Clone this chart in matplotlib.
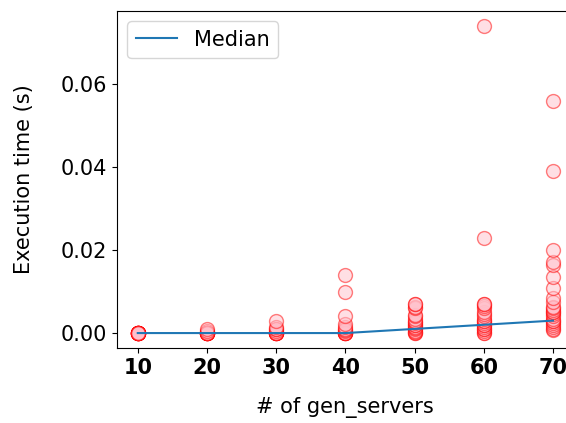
import matplotlib
matplotlib.use("Agg")
import matplotlib.pyplot as plt

# number of gen_servers and measured execution times (s) per setting
servers = [10, 20, 30, 40, 50, 60, 70]
times_10 = [0.0] * 15
times_20 = [0.0] * 12 + [0.0005, 0.001]
times_30 = [0.0] * 8 + [0.0005, 0.001, 0.001, 0.0015, 0.003]
times_40 = [0.0] * 6 + [0.0005, 0.0007, 0.001, 0.0015, 0.0023, 0.004, 0.010, 0.014]
times_50 = [0.0, 0.0, 0.0002, 0.0005, 0.001, 0.0012, 0.0015, 0.0019, 0.002, 0.0025,
            0.0027, 0.003, 0.0035, 0.004, 0.0043, 0.006, 0.0063, 0.0069, 0.007]
times_60 = [0.0, 0.0, 0.0005, 0.001, 0.001, 0.0015, 0.002, 0.002, 0.0025, 0.003,
            0.003, 0.0035, 0.004, 0.0045, 0.005, 0.006, 0.0065, 0.007, 0.007,
            0.023, 0.074]
times_70 = [0.0007, 0.001, 0.0015, 0.002, 0.0025, 0.003, 0.003, 0.0035, 0.004,
            0.0045, 0.005, 0.0051, 0.0055, 0.006, 0.0063, 0.0075, 0.0084, 0.0108,
            0.0136, 0.0164, 0.0172, 0.020, 0.039, 0.056]
medians = [0.0, 0.0, 0.0, 0.0, 0.001, 0.002, 0.003]

all_times = [times_10, times_20, times_30, times_40, times_50, times_60, times_70]

fig = plt.figure(figsize=(5.66, 4.23), dpi=100)
ax = fig.add_axes((0.2067, 0.1773, 0.807, 0.7967))

# scatter every run for each setting
for n, t in zip(servers, all_times):
    ax.scatter([n] * len(t), t, s=100, facecolor='pink', edgecolor='red',
               alpha=0.5, zorder=2)

ax.plot(servers, medians, color='C0', linewidth=1.5, label='Median', zorder=3)

ax.set_xticks(servers)
ax.set_yticks([0.0, 0.02, 0.04, 0.06])
ax.set_yticklabels(['0.00', '0.02', '0.04', '0.06'])
ax.set_ylim(-0.0036, 0.0776)
ax.tick_params(labelsize=15)
for lbl in ax.get_xticklabels():
    lbl.set_fontweight('bold')

ax.set_xlabel('# of gen_servers', fontsize=15, labelpad=14)
ax.set_ylabel('Execution time (s)', fontsize=15, labelpad=19)
ax.legend(loc='upper left', fontsize=15)

fig.savefig('out.png', dpi=100)
